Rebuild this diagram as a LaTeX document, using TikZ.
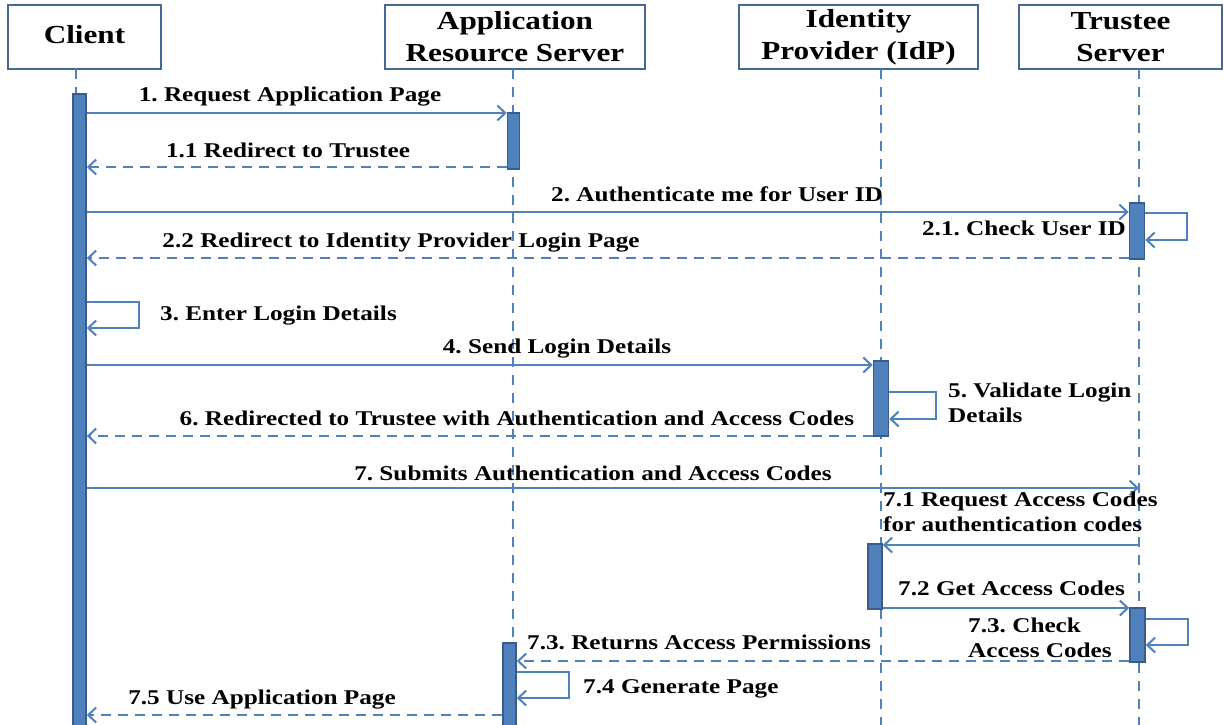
\documentclass[tikz,border=0pt]{standalone}
\usepackage{fontspec}
\setmainfont{Liberation Serif}[FakeStretch=1.2]
\usepackage{xcolor}
\usepackage{tikz}
\usetikzlibrary{arrows.meta, positioning}
\frenchspacing
\definecolor{lineblue}{RGB}{79, 129, 189}
\definecolor{bardark}{RGB}{56, 93, 138}
\definecolor{boxblue}{RGB}{70, 104, 150}
\tikzset{
    actor/.style={draw=boxblue, line width=2pt, fill=white, align=center, inner sep=0pt,
        minimum height=64pt, font=\fontsize{26}{32}\selectfont\bfseries},
    lifeline/.style={draw=lineblue, line width=2.5pt, dash pattern=on 10pt off 8pt},
    actbar/.style={draw=bardark, fill=lineblue, line width=1.5pt, inner sep=0pt,
        minimum width=13pt, anchor=north},
    call/.style={draw=lineblue, line width=2pt,
        -{Straight Barb[length=8pt, width=15pt, line width=2pt]}},
    reply/.style={call, dash pattern=on 10pt off 7pt},
    msglabel/.style={font=\fontsize{21}{25}\selectfont\bfseries, inner sep=0pt, anchor=base, align=left},
}

\begin{document}
\begin{tikzpicture}[x=1pt, y=-1pt]
        \useasboundingbox (0,0) rectangle (1224,725);

        % participants
        \node[actor, minimum width=153pt] (client) at (84.5,37) {\strut Client};
        \node[actor, minimum width=260pt] (ars) at (515,37) {Application\\Resource Server};
        \node[actor, minimum width=239pt] (idp) at (858.5,37) {Identity\\Provider (IdP)};
        \node[actor, minimum width=203pt] (trustee) at (1120.5,37) {Trustee\\Server};

        \coordinate (clientll) at (76,69);
        \coordinate (arsll) at (513,69);
        \coordinate (idpll) at (881,69);
        \coordinate (trusteell) at (1139,69);
        \foreach \ll in {clientll, arsll, idpll, trusteell}
            \draw[lifeline] (\ll) -- (\ll |- 0,725);

        % activations
        \node[actbar, minimum height=632pt] (cbar) at (79.5,93) {};
        \node[actbar, minimum width=12pt, minimum height=56pt] (arsbar1) at (513.5,112) {};
        \node[actbar, minimum width=15pt, minimum height=56pt] (trbar1) at (1137,202) {};
        \node[actbar, minimum width=15pt, minimum height=75pt] (idpbar1) at (881,360) {};
        \node[actbar, minimum width=14pt, minimum height=65pt] (idpbar2) at (875,543) {};
        \node[actbar, minimum width=15pt, minimum height=54pt] (trbar2) at (1137.5,607) {};
        \node[actbar, minimum height=83pt] (arsbar2) at (509.5,642) {};

        % messages
        \draw[call] (cbar.east |- 0,113) -- (arsbar1.west |- 0,113);
        \node[msglabel] (m1) at (290,102) {1. Request Application Page};

        \draw[reply] (arsbar1.west |- 0,167) -- (cbar.east |- 0,167);
        \node[msglabel] (m11) at (288,157) {1.1 Redirect to Trustee};

        \draw[call] (cbar.east |- 0,212) -- (trbar1.west |- 0,212);
        \node[msglabel] (m2) at (717,201) {2. Authenticate me for User ID};

        \draw[call] (trbar1.east |- 0,213) -| ++(42,27) -- (trbar1.east |- 0,240);
        \node[msglabel, anchor=base east] (m21) at (1126,235) {2.1. Check User ID};

        \draw[reply] (trbar1.west |- 0,258) -- (cbar.east |- 0,258);
        \node[msglabel] (m22) at (401,247) {2.2 Redirect to Identity Provider Login Page};

        \draw[call] (cbar.east |- 0,302) -| ++(52,26) -- (cbar.east |- 0,328);
        \node[msglabel, anchor=base west] (m3) at (160,320) {3. Enter Login Details};

        \draw[call] (cbar.east |- 0,365) -- (idpbar1.west |- 0,365);
        \node[msglabel] (m4) at (557,353) {4. Send Login Details};

        \draw[call] (idpbar1.east |- 0,392) -| ++(47,27) -- (idpbar1.east |- 0,419);
        \node[msglabel, anchor=north west] (m5) at (948,383) {5. Validate Login\\Details};

        \draw[reply] (idpbar1.west |- 0,436) -- (cbar.east |- 0,436);
        \node[msglabel] (m6) at (517,425) {6. Redirected to Trustee with Authentication and Access Codes};

        \draw[call] (cbar.east |- 0,488) -- (trusteell |- 0,488);
        \node[msglabel] (m7) at (593,480) {7. Submits Authentication and Access Codes};

        \draw[call] (trusteell |- 0,545) -- (idpbar2.east |- 0,545);
        \node[msglabel, anchor=north west] (m71) at (883,492) {7.1 Request Access Codes\\for authentication codes};

        \draw[call] (idpbar2.east |- 0,608) -- (trbar2.west |- 0,608);
        \node[msglabel, anchor=base west] (m72) at (898,595) {7.2 Get Access Codes};

        \draw[call] (trbar2.east |- 0,619) -| ++(42,26) -- (trbar2.east |- 0,645);
        \node[msglabel, anchor=north west] (m73) at (968,618) {7.3. Check\\Access Codes};

        \draw[reply] (trbar2.west |- 0,661) -- (arsbar2.east |- 0,661);
        \node[msglabel, anchor=base west] (m73r) at (527,649) {7.3. Returns Access Permissions};

        \draw[call] (arsbar2.east |- 0,672) -| ++(52,26) -- (arsbar2.east |- 0,698);
        \node[msglabel, anchor=base west] (m74) at (583,693) {7.4 Generate Page};

        \draw[reply] (arsbar2.west |- 0,715) -- (cbar.east |- 0,715);
        \node[msglabel] (m75) at (262,704) {7.5 Use Application Page};
    \end{tikzpicture}
\end{document}
